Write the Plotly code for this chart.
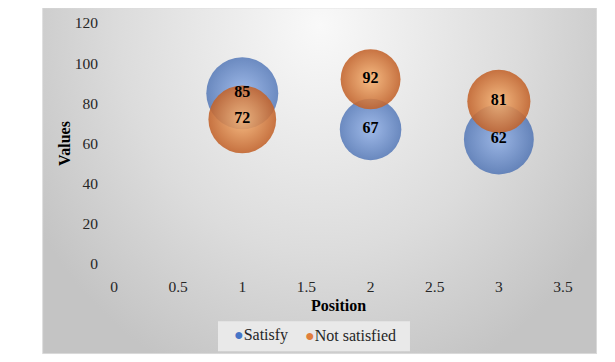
import base64
import plotly.graph_objects as go

# data
positions = [1, 2, 3]
satisfy = [85, 67, 62]
not_satisfied = [72, 92, 81]
# bubble size values (area)
satisfy_bubble = [52, 38, 49]
not_satisfied_bubble = [46, 36, 40]

x_ticks = [0, 0.5, 1, 1.5, 2, 2.5, 3, 3.5]
y_ticks = [0, 20, 40, 60, 80, 100, 120]
series_names = ["Satisfy", "Not satisfied"]

SERIF = "Liberation Serif, Times New Roman, serif"
BLUE, BLUE_LIGHT = "#3460ad", "#7fa5e8"
ORANGE, ORANGE_LIGHT = "#c2622a", "#f7b474"
max_px = 72
sizeref = 2.0 * max(satisfy_bubble + not_satisfied_bubble) / max_px ** 2

# grey chart-area background with a soft radial gradient
svg = (
    "<svg xmlns='http://www.w3.org/2000/svg' width='555' height='348' "
    "viewBox='0 0 555 348' preserveAspectRatio='none'>"
    "<defs><radialGradient id='g' cx='0.5' cy='0.05' r='1' "
    "gradientTransform='translate(0.5,0.05) scale(0.6,1.1) translate(-0.5,-0.05)'>"
    "<stop offset='0' stop-color='#f9f9f9'/>"
    "<stop offset='0.6' stop-color='#dcdcdc'/>"
    "<stop offset='1' stop-color='#c4c4c4'/>"
    "</radialGradient></defs>"
    "<rect x='0.5' y='0.5' width='554' height='347' fill='url(#g)' stroke='#d9d9d9'/>"
    "</svg>"
)
bg_uri = "data:image/svg+xml;base64," + base64.b64encode(svg.encode()).decode()

fig = go.Figure()

fig.add_trace(
    go.Scatter(
        x=positions, y=satisfy, mode="markers", name=series_names[0],
        marker=dict(size=satisfy_bubble, sizemode="area", sizeref=sizeref,
                    color=BLUE, line=dict(width=0),
                    gradient=dict(type="radial", color=BLUE_LIGHT)),
        hoverinfo="x+y",
    )
)

fig.add_trace(
    go.Scatter(
        x=positions, y=not_satisfied, mode="markers", name=series_names[1],
        marker=dict(size=not_satisfied_bubble, sizemode="area", sizeref=sizeref,
                    color=ORANGE, line=dict(width=0), opacity=0.88,
                    gradient=dict(type="radial", color=ORANGE_LIGHT)),
        hoverinfo="x+y",
    )
)

# value labels on top of both bubble series
for vals in (satisfy, not_satisfied):
    fig.add_trace(
        go.Scatter(
            x=positions, y=vals, mode="text", text=[str(v) for v in vals],
            textposition="middle center", hoverinfo="skip",
            textfont=dict(family=SERIF, size=16, color="black", weight="bold"),
        )
    )

# compact legend at the bottom (Excel style: marker right next to the text)
legend_entries = [
    (series_names[0], "#4675c6", 0.3285),
    (series_names[1], "#e07e3c", 0.5278),
]
legend_annotations = [
    dict(text=f"<span style='color:{col}'>●</span>{name}",
         xref="paper", yref="paper", x=xc, y=-0.2957,
         xanchor="center", yanchor="middle", showarrow=False,
         font=dict(family=SERIF, size=16, color="#262626"))
    for name, col, xc in legend_entries
]

# the page body adds an 8px offset, so the margins are shifted to compensate
fig.update_layout(
    width=615,
    height=362,
    margin=dict(l=106, r=60, t=15, b=105.5, autoexpand=False),
    paper_bgcolor="white",
    plot_bgcolor="rgba(0,0,0,0)",
    showlegend=False,
    font=dict(family=SERIF, size=15.5, color="#262626"),
    images=[dict(source=bg_uri, xref="paper", yref="paper",
                 x=-0.160, y=1.065, sizex=1.236, sizey=1.439,
                 xanchor="left", yanchor="top", sizing="stretch", layer="below")],
    shapes=[dict(type="rect", xref="paper", yref="paper",
                 x0=0.2316, x1=0.6592, y0=-0.3619, y1=-0.2378,
                 fillcolor="#e9e9e9", line=dict(width=0), layer="above")],
    annotations=legend_annotations,
    xaxis=dict(
        range=[0, 3.5], tickvals=x_ticks, ticktext=[str(v) for v in x_ticks],
        showgrid=False, zeroline=False, showline=False, automargin=False,
        ticks="outside", ticklen=8, tickcolor="rgba(0,0,0,0)",
        tickfont=dict(family=SERIF, size=15.5, color="#262626"),
        title=dict(text="Position", font=dict(family=SERIF, size=16, color="black", weight="bold"),
                   standoff=6),
    ),
    yaxis=dict(
        range=[0, 120], tickvals=y_ticks,
        showgrid=False, zeroline=False, showline=False, automargin=False,
        ticks="outside", ticklen=12, tickcolor="rgba(0,0,0,0)",
        tickfont=dict(family=SERIF, size=15.5, color="#262626"),
        title=dict(text="Values", font=dict(family=SERIF, size=16, color="black", weight="bold"),
                   standoff=0),
    ),
)

fig.write_html("out.html")
